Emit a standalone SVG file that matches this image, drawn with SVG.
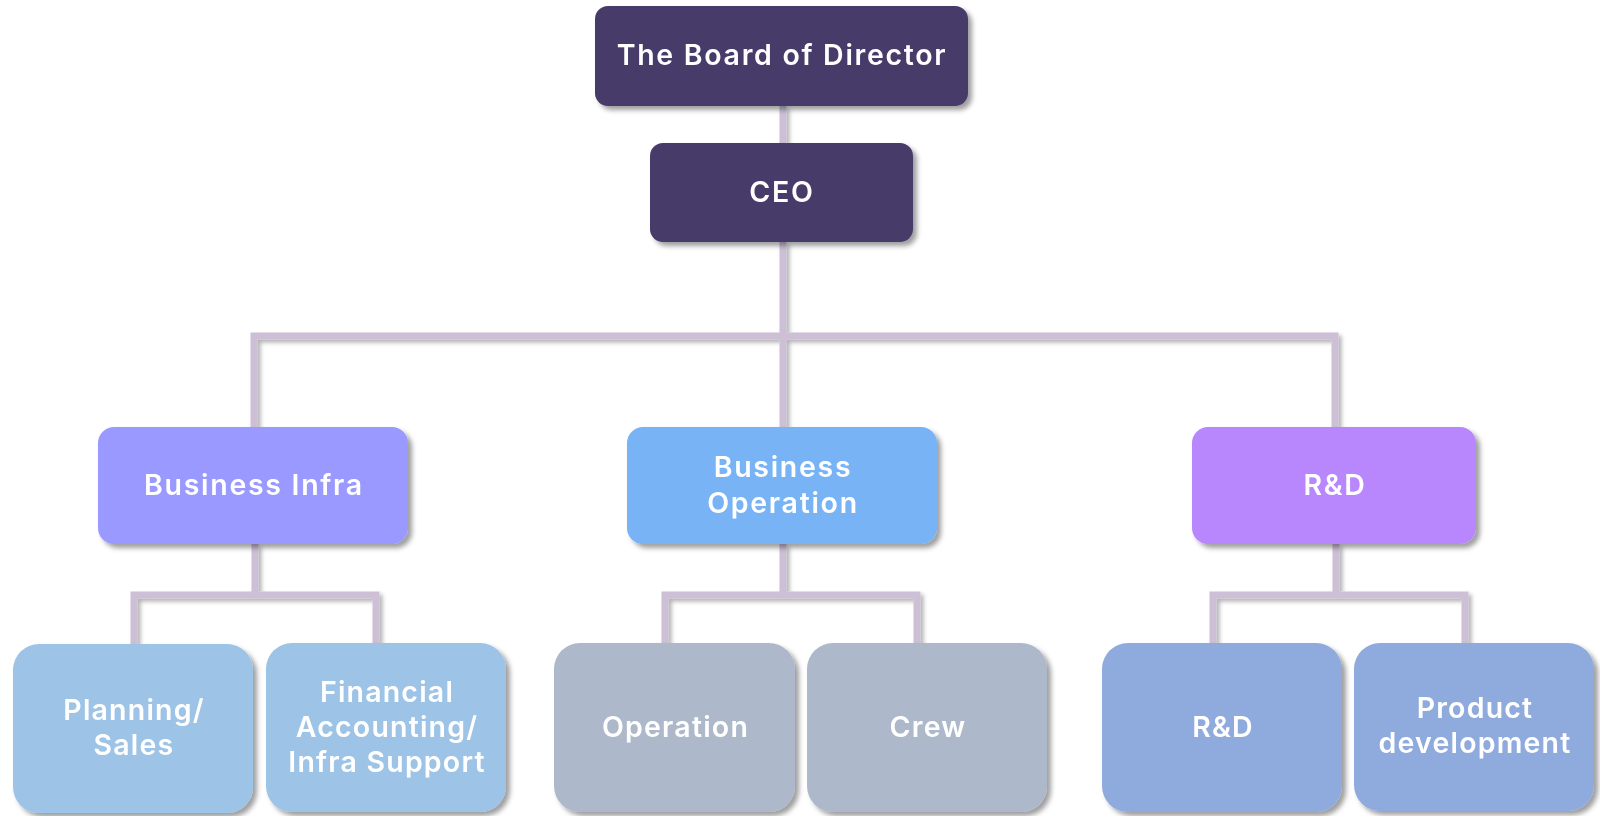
<svg xmlns="http://www.w3.org/2000/svg" width="1600" height="816" viewBox="0 0 1600 816">
<defs>
<filter id="sh" x="-10%" y="-10%" width="130%" height="130%">
<feDropShadow dx="4" dy="4" stdDeviation="2.5" flood-color="#000" flood-opacity="0.38"/>
</filter>
<filter id="lsh" x="-5%" y="-5%" width="110%" height="110%">
<feDropShadow dx="3" dy="3" stdDeviation="2" flood-color="#000" flood-opacity="0.3"/>
</filter>
</defs>
<style>
.t{font-family:Inter,"Noto Sans","Liberation Sans",sans-serif;font-weight:600;font-size:28.5px;letter-spacing:1.7px;fill:#ffffff;text-anchor:middle}
.s{letter-spacing:1.2px}
.c{fill:none;stroke:#ccbfd6;stroke-width:7;stroke-linejoin:miter;stroke-linecap:butt}
.n{filter:url(#sh)}
</style>
<rect width="1600" height="816" fill="#ffffff"/>
<g id="connectors" filter="url(#lsh)">
<path class="c" d="M783 106V143"/>
<path class="c" d="M783 242V427M254 427V336H1335V427"/>
<path class="c" d="M255 544V595M134 644V595H376V644"/>
<path class="c" d="M783 544V595M665 644V595H917V644"/>
<path class="c" d="M1336 544V595M1213 644V595H1465V644"/>
</g>
<g id="board" class="n"><rect x="595" y="6" width="373" height="100" rx="13" fill="#463a6a"/><text class="t" x="782" y="65">The Board of Director</text></g>
<g id="ceo" class="n"><rect x="650" y="143" width="263" height="99" rx="13" fill="#463a6a"/><text class="t" x="782" y="202">CEO</text></g>
<g id="business-infra" class="n"><rect x="98" y="427" width="310" height="117" rx="16" fill="#9999ff"/><text class="t" x="254" y="495">Business Infra</text></g>
<g id="business-operation" class="n"><rect x="627" y="427" width="310" height="117" rx="16" fill="#78b3f5"/><text class="t" x="783" y="477">Business</text><text class="t" x="783" y="513">Operation</text></g>
<g id="rd-main" class="n"><rect x="1192" y="427" width="284" height="117" rx="16" fill="#b987fd"/><text class="t" x="1335" y="495">R&amp;D</text></g>
<g id="planning-sales" class="n"><rect x="13" y="644" width="240" height="169" rx="26" fill="#9dc3e6"/><text class="t s" x="134" y="720">Planning/</text><text class="t s" x="134" y="755">Sales</text></g>
<g id="financial" class="n"><rect x="266" y="643" width="240" height="169" rx="26" fill="#9dc3e6"/><text class="t s" x="387" y="702">Financial</text><text class="t s" x="387" y="737">Accounting/</text><text class="t s" x="387" y="772">Infra Support</text></g>
<g id="operation" class="n"><rect x="554" y="643" width="241" height="169" rx="26" fill="#adb9ca"/><text class="t s" x="675.5" y="737">Operation</text></g>
<g id="crew" class="n"><rect x="807" y="643" width="240" height="169" rx="26" fill="#adb9ca"/><text class="t s" x="928" y="737">Crew</text></g>
<g id="rd-sub" class="n"><rect x="1102" y="643" width="240" height="169" rx="26" fill="#8faadc"/><text class="t s" x="1223" y="737">R&amp;D</text></g>
<g id="product-dev" class="n"><rect x="1354" y="643" width="240" height="168" rx="26" fill="#8faadc"/><text class="t s" x="1475" y="718">Product</text><text class="t s" x="1475" y="753">development</text></g>
</svg>
